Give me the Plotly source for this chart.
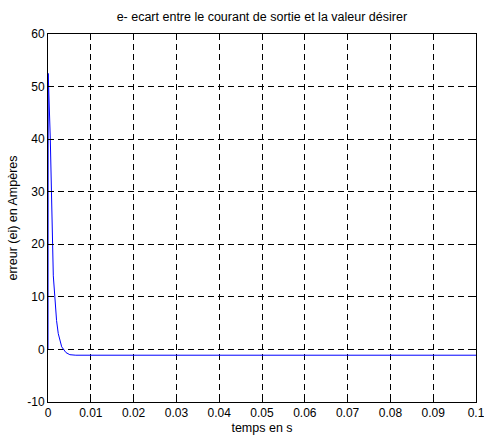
import plotly.graph_objects as go

t = [0, 0.00005, 0.00054, 0.00077, 0.001, 0.00124, 0.0016, 0.002, 0.0024, 0.0028,
     0.0032, 0.0042, 0.0051, 0.0065, 0.1]
err = [0, 52.5, 40, 30, 23, 14, 10, 5.5, 3, 1.4, 0.5, -0.6, -1.0, -1.1, -1.1]

x_ticks = [0, 0.01, 0.02, 0.03, 0.04, 0.05, 0.06, 0.07, 0.08, 0.09, 0.1]
x_labels = ["0", "0.01", "0.02", "0.03", "0.04", "0.05", "0.06", "0.07", "0.08", "0.09", "0.1"]
y_ticks = [-10, 0, 10, 20, 30, 40, 50, 60]
y_labels = ["-10", "0", "10", "20", "30", "40", "50", "60"]

fig = go.Figure()
fig.add_trace(go.Scatter(x=t, y=err, mode="lines",
                         line=dict(color="#0000ff", width=1), showlegend=False))

axis_common = dict(
    showline=True, linecolor="black", linewidth=1, mirror="allticks",
    ticks="inside", ticklen=5, tickcolor="black",
    showgrid=True, gridcolor="black", gridwidth=1, griddash="6px,4px",
    zeroline=False, tickfont=dict(size=12, color="black"), automargin=False,
    ticklabeloverflow="allow",
)

fig.update_layout(
    width=484, height=441,
    margin=dict(l=48, r=8, t=34, b=39),
    paper_bgcolor="white", plot_bgcolor="white",
    font=dict(family="Liberation Sans, Arial, sans-serif", size=12, color="black"),
    title=dict(text="e- ecart entre le courant de sortie et la valeur désirer",
               x=0.541, xanchor="center", y=0.963, yanchor="middle",
               font=dict(size=12.5, color="black")),
)
fig.update_xaxes(range=[0, 0.1], tickvals=x_ticks, ticktext=x_labels,
                 title=dict(text="temps en s", standoff=3, font=dict(size=12.5)),
                 **axis_common)
fig.update_yaxes(range=[-10, 60], tickvals=y_ticks, ticktext=y_labels,
                 title=dict(text="erreur (ei) en Ampères", standoff=6, font=dict(size=12.5)),
                 **axis_common)

fig.write_html("out.html")
